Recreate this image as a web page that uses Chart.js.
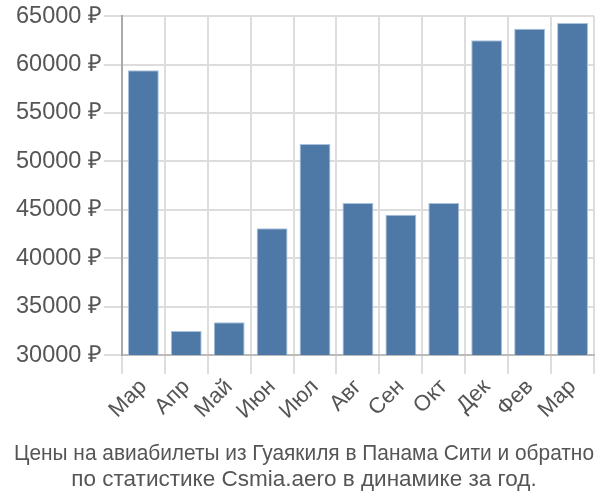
<!DOCTYPE html>
<html>
<head>
<meta charset="utf-8">
<script src="https://cdn.jsdelivr.net/npm/chart.js@4/dist/chart.umd.min.js"></script>
<style>
  body { margin: 0; background: #fff; }
  #wrap { width: 600px; height: 500px; }
</style>
</head>
<body>
<div id="wrap"><canvas id="chart" width="600" height="500"></canvas></div>
<script>
// months and prices
const months = ["Мар", "Апр", "Май", "Июн", "Июл", "Авг", "Сен", "Окт", "Дек", "Фев", "Мар"];
const prices = [59400, 32500, 33400, 43100, 51800, 45700, 44500, 45700, 62500, 63700, 64300];
const titleLines = [
    "Цены на авиабилеты из Гуаякиля в Панама Сити и обратно",
    "по статистике Csmia.aero в динамике за год."
];

const textColor = "#555";
const gridColor = "#ddd";

new Chart(document.getElementById("chart"), {
    type: 'bar',
    data: {
        labels: months,
        datasets: [{
            data: prices,
            backgroundColor: "#4e79a7",
            borderColor: "#a9c1dc",
            borderWidth: 1,
            categoryPercentage: 0.72,
            barPercentage: 1
        }]
    },
    options: {
        responsive: false,
        animation: false,
        layout: { padding: { top: 4, right: 6, left: 14, bottom: 0 } },
        plugins: {
            legend: { display: false },
            tooltip: { enabled: false },
            title: {
                display: true,
                position: 'bottom',
                text: titleLines,
                color: textColor,
                font: { family: "'Liberation Sans Narrow', 'Liberation Sans', sans-serif", size: 22.5, weight: 'normal', lineHeight: 1.17 },
                padding: { top: 16, bottom: 7 }
            }
        },
        scales: {
            x: {
                grid: { color: gridColor, lineWidth: 2, offset: true, tickLength: 19 },
                border: { color: "#bbb", width: 2 },
                ticks: {
                    color: textColor,
                    maxRotation: 45,
                    minRotation: 45,
                    padding: 0,
                    font: { family: "'Liberation Sans', sans-serif", size: 22 }
                }
            },
            y: {
                min: 30000,
                max: 65000,
                grid: { color: gridColor, lineWidth: 2, tickLength: 18 },
                border: { color: "#aaa", width: 2 },
                ticks: {
                    stepSize: 5000,
                    color: textColor,
                    padding: 2,
                    font: { family: "'Liberation Sans', sans-serif", size: 23.5 },
                    callback: v => v + " ₽"
                }
            }
        }
    }
});
</script>
</body>
</html>
